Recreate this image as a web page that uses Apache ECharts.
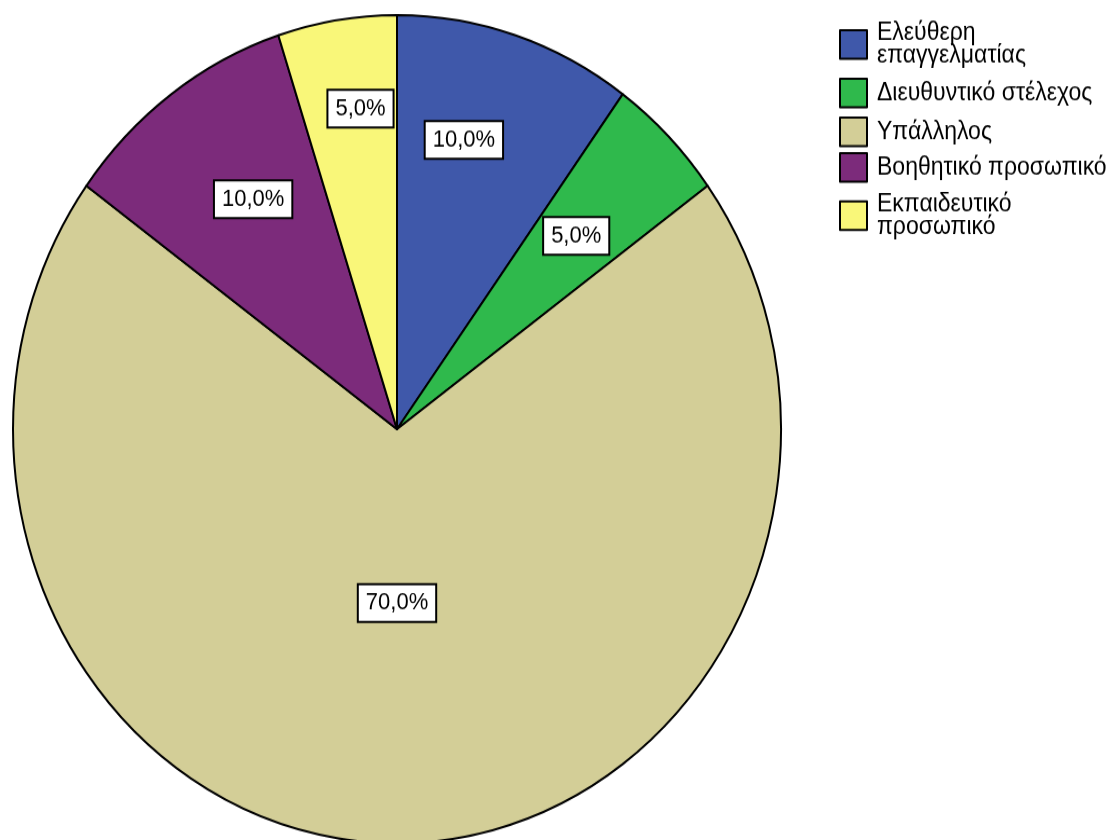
<!DOCTYPE html>
<html>
<head>
<meta charset="utf-8">
<script src="https://cdn.jsdelivr.net/npm/echarts@6/dist/echarts.min.js"></script>
<style>
  html, body { margin: 0; padding: 0; background: #fff; }
  #frame { width: 1111px; height: 840px; overflow: hidden; position: relative; background: #fff; }
  /* The chart is drawn on a 1111x779 canvas and stretched vertically to 840px */
  #chart { position: absolute; left: 0; top: 0; width: 1111px; height: 779px; transform: scaleY(1.0783); transform-origin: 0 0; }
</style>
</head>
<body>
<div id="frame"><div id="chart"></div></div>
<script>
// Occupation categories and their shares (%)
const categories = [
  'Ελεύθερη\nεπαγγελματίας',
  'Διευθυντικό στέλεχος',
  'Υπάλληλος',
  'Βοηθητικό προσωπικό',
  'Εκπαιδευτικό\nπροσωπικό'
];
const percentValues = [10.0, 5.0, 70.0, 10.0, 5.0];
const sliceColors = ['#3f58aa', '#2fb94c', '#d3ce97', '#7c2b7b', '#f9f779'];

// Where each value box sits: [angle shift from slice middle (deg), distance as fraction of radius]
const labelPlacement = [[-4, 0.72], [0, 0.66], [0, 0.42], [2, 0.67], [2, 0.78]];
// Legend rows: top of each legend item and extra top padding of its text
const legendTops = [14.8, 72, 108, 141, 173.5];
const legendTextShift = [10, 4, 4, 4, 10];

const PIE = { cx: 397, cy: 398, r: 384 };
const FONT = '"Liberation Sans", Arial, sans-serif';

const total = percentValues.reduce((a, b) => a + b, 0);
const starts = [];
let acc = 0;
percentValues.forEach(v => { starts.push(acc); acc += v; });

function fmtPct(v) { return v.toFixed(1).replace('.', ',') + '%'; }

const pieData = categories.map((name, i) => ({
  name: name,
  value: percentValues[i],
  itemStyle: { color: sliceColors[i] }
}));

const legends = categories.map((name, i) => ({
  orient: 'vertical',
  left: 839,
  top: legendTops[i],
  padding: 0,
  itemWidth: 27,
  itemHeight: 26.5,
  icon: 'rect',
  selectedMode: false,
  itemStyle: { borderColor: '#000', borderWidth: 2 },
  textStyle: {
    fontFamily: FONT, fontSize: 23, lineHeight: 21.5, color: '#000',
    padding: [legendTextShift[i], 0, 0, 5]
  },
  data: [name]
}));

const chart = echarts.init(document.getElementById('chart'), null, { renderer: 'canvas' });
chart.setOption({
  animation: false,
  backgroundColor: 'transparent',
  legend: legends,
  series: [{
    type: 'pie',
    center: [PIE.cx, PIE.cy],
    radius: [0, PIE.r],
    startAngle: 90,
    clockwise: true,
    avoidLabelOverlap: false,
    silent: true,
    itemStyle: { borderColor: '#000', borderWidth: 2 },
    label: {
      show: true,
      position: 'inside',
      formatter: p => fmtPct(p.value),
      fontFamily: FONT,
      fontSize: 22,
      lineHeight: 22,
      color: '#000',
      backgroundColor: '#fff',
      borderColor: '#000',
      borderWidth: 2,
      padding: [6, 7, 5, 7]
    },
    labelLine: { show: false },
    labelLayout: function (params) {
      const i = params.dataIndex;
      const s = starts[i], v = percentValues[i];
      const mid = ((s + v / 2) / total) * 2 * Math.PI - Math.PI / 2 + labelPlacement[i][0] * Math.PI / 180;
      const f = labelPlacement[i][1];
      return {
        x: PIE.cx + f * PIE.r * Math.cos(mid),
        y: PIE.cy + f * PIE.r * Math.sin(mid),
        align: 'center',
        verticalAlign: 'middle'
      };
    },
    data: pieData
  }]
});
</script>
</body>
</html>
